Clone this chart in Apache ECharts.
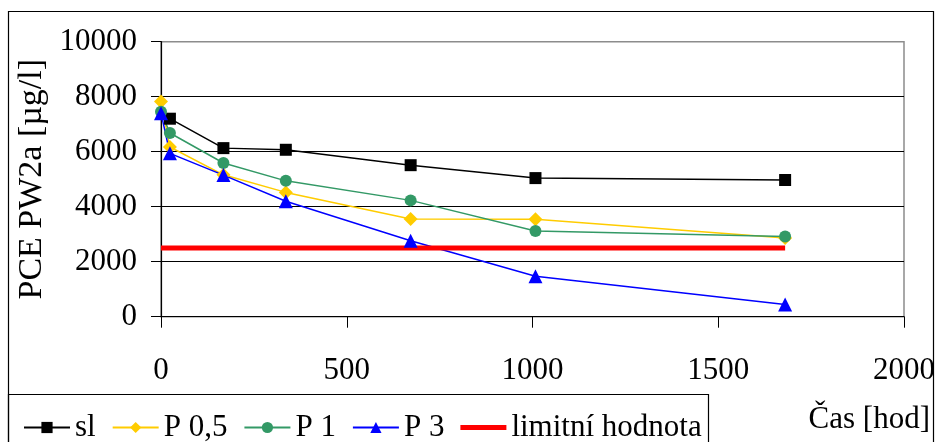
<!DOCTYPE html>
<html>
<head>
<meta charset="utf-8">
<script src="https://cdn.jsdelivr.net/npm/echarts@6/dist/echarts.min.js"></script>
<style>
  html, body { margin: 0; padding: 0; background: #fff; }
  #chart { width: 938px; height: 442px; }
</style>
</head>
<body>
<div id="chart"></div>
<script>
// Sampling times [h]
const timesSl = [24, 168, 336, 672, 1008, 1680];
const timesP = [0, 24, 168, 336, 672, 1008, 1680];

// PCE concentration in PW2a [µg/l]
const sl = [7200, 6130, 6070, 5510, 5040, 4970];
const p05 = [7830, 6170, 5160, 4520, 3550, 3540, 2860];
const p1 = [7450, 6680, 5590, 4940, 4230, 3120, 2920];
const p3 = [7400, 5940, 5150, 4200, 2760, 1470, 440];

// Limit value line
const limitTimes = [0, 1680];
const limitValue = 2500;

const seriesNames = ['sl', 'P 0,5', 'P 1', 'P 3', 'limitní hodnota'];
const yTicks = [0, 2000, 4000, 6000, 8000, 10000];
const xTicks = [0, 500, 1000, 1500, 2000];

const pairs = (xs, ys) => xs.map((x, i) => [x, ys[i]]);
const FONT = '"Liberation Serif", "Times New Roman", serif';
const plain = v => String(v);

const chart = echarts.init(document.getElementById('chart'), null, { renderer: 'canvas' });

chart.setOption({
  animation: false,
  backgroundColor: '#fff',
  textStyle: { fontFamily: FONT, color: '#000' },
  grid: {
    left: 161, right: 34, top: 41.7, bottom: 125.3,
    show: true, borderColor: '#8c8c8c', borderWidth: 1.5, backgroundColor: 'transparent'
  },
  xAxis: {
    type: 'value',
    min: xTicks[0], max: xTicks[xTicks.length - 1], interval: xTicks[1] - xTicks[0],
    axisLine: { show: true, onZero: false, lineStyle: { color: '#000', width: 1.2 } },
    axisTick: { show: true, inside: false, length: 11, lineStyle: { color: '#000', width: 1 } },
    axisLabel: { fontSize: 31, fontFamily: FONT, color: '#000', margin: 39, formatter: plain },
    splitLine: { show: false }
  },
  yAxis: {
    type: 'value',
    min: yTicks[0], max: yTicks[yTicks.length - 1], interval: yTicks[1] - yTicks[0],
    name: 'PCE PW2a [µg/l]',
    nameLocation: 'middle',
    nameRotate: 90,
    nameGap: 101,
    nameTextStyle: { fontSize: 34, fontFamily: FONT, color: '#000' },
    axisLine: { show: true, lineStyle: { color: '#000', width: 1.2 } },
    axisTick: { show: true, inside: false, length: 10, lineStyle: { color: '#000', width: 1 } },
    axisLabel: { fontSize: 31, fontFamily: FONT, color: '#000', margin: 24, formatter: plain },
    splitLine: {
      show: true,
      lineStyle: { color: ['#000', '#000', '#000', '#000', '#000', '#8c8c8c'], width: 1.2 }
    }
  },
  legend: {
    left: 18, top: 407,
    itemWidth: 46, itemHeight: 14, itemGap: 16,
    textStyle: { fontSize: 31, fontFamily: FONT, color: '#000' },
    data: [
      seriesNames[0], seriesNames[1], seriesNames[2], seriesNames[3],
      { name: seriesNames[4], icon: 'path://M0,0L46,0L46,5L0,5Z' }
    ]
  },
  graphic: [
    {
      type: 'rect', silent: true, z: -1,
      shape: { x: 8.5, y: 11.5, width: 925, height: 460 },
      style: { fill: 'none', stroke: '#000', lineWidth: 1.2 }
    },
    {
      type: 'rect', silent: true, z: -1,
      shape: { x: 8.5, y: 394.5, width: 700, height: 80 },
      style: { fill: 'none', stroke: '#000', lineWidth: 1.2 }
    },
    {
      type: 'text', silent: true,
      right: 8, top: 404,
      style: { text: 'Čas [hod]', font: '31px ' + FONT, fill: '#000' }
    }
  ],
  series: [
    {
      name: seriesNames[0], type: 'line', data: pairs(timesSl, sl),
      symbol: 'rect', symbolSize: 12,
      lineStyle: { color: '#000', width: 1.5 },
      itemStyle: { color: '#000' }
    },
    {
      name: seriesNames[1], type: 'line', data: pairs(timesP, p05),
      symbol: 'diamond', symbolSize: 14,
      lineStyle: { color: '#ffcc00', width: 1.5 },
      itemStyle: { color: '#ffcc00' }
    },
    {
      name: seriesNames[2], type: 'line', data: pairs(timesP, p1),
      symbol: 'circle', symbolSize: 12,
      lineStyle: { color: '#339966', width: 1.5 },
      itemStyle: { color: '#339966' }
    },
    {
      name: seriesNames[3], type: 'line', data: pairs(timesP, p3),
      symbol: 'triangle', symbolSize: 14,
      lineStyle: { color: '#0000ff', width: 1.5 },
      itemStyle: { color: '#0000ff' }
    },
    {
      name: seriesNames[4], type: 'line',
      data: limitTimes.map(t => [t, limitValue]),
      symbol: 'none',
      lineStyle: { color: '#ff0000', width: 5 },
      itemStyle: { color: '#ff0000' }
    }
  ]
});
</script>
</body>
</html>
